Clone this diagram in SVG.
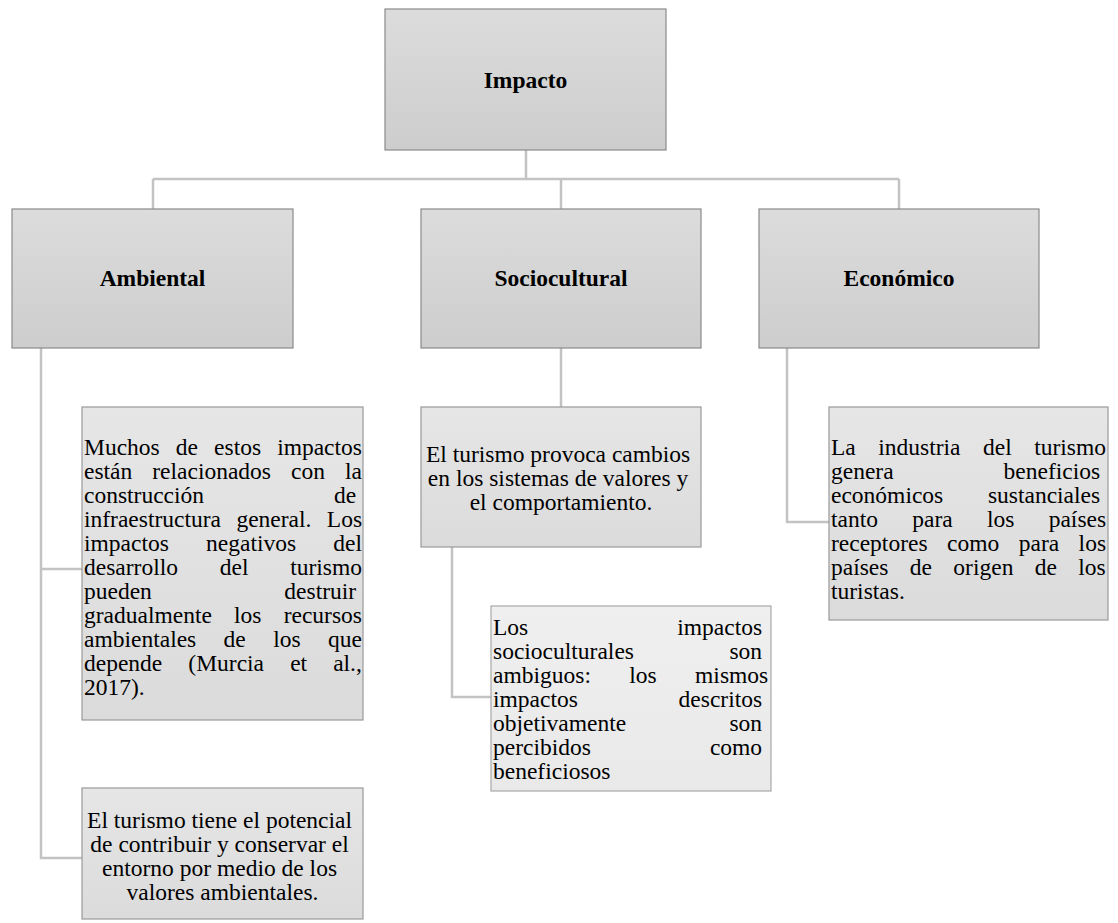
<svg xmlns="http://www.w3.org/2000/svg" width="1118" height="923" viewBox="0 0 1118 923">
<defs>
<linearGradient id="gTop" x1="0" y1="0" x2="0" y2="1">
<stop offset="0" stop-color="#dcdcdc"/><stop offset="1" stop-color="#cdcdcd"/>
</linearGradient>
<linearGradient id="gChild" x1="0" y1="0" x2="0" y2="1">
<stop offset="0" stop-color="#e6e6e6"/><stop offset="1" stop-color="#dbdbdb"/>
</linearGradient>
<linearGradient id="gLight" x1="0" y1="0" x2="0" y2="1">
<stop offset="0" stop-color="#efefef"/><stop offset="1" stop-color="#e9e9e9"/>
</linearGradient>
</defs>
<style>
.top{fill:url(#gTop);stroke:#8a8a8a;stroke-width:1.2}
.child{fill:url(#gChild);stroke:#999999;stroke-width:1.2}
.light{fill:url(#gLight);stroke:#a8a8a8;stroke-width:1.2}
.lbl{font-family:"Liberation Serif","Times New Roman",serif;font-size:23.5px;font-weight:bold;fill:#000;text-anchor:middle}
.txt{font-family:"Liberation Serif","Times New Roman",serif;font-size:23.5px;fill:#000}
.c{text-anchor:middle}
.conn{fill:none;stroke:#c3c3c3;stroke-width:2.5}
</style>
<g id="connectors">
<path class="conn" d="M526,150 V179"/>
<path class="conn" d="M153,179 H899"/>
<path class="conn" d="M153,179 V209"/>
<path class="conn" d="M561,179 V209"/>
<path class="conn" d="M899,179 V209"/>
<path class="conn" d="M41,348 V858 H82"/>
<path class="conn" d="M41,569 H82"/>
<path class="conn" d="M561,348 V407"/>
<path class="conn" d="M452,547 V697 H491"/>
<path class="conn" d="M787,348 V522 H829"/>
</g>
<g id="impacto">
<rect class="top" x="385" y="9" width="281" height="141"/>
<text class="lbl" x="525.5" y="88">Impacto</text>
</g>
<g id="ambiental">
<rect class="top" x="12" y="209" width="281" height="139"/>
<text class="lbl" x="152.5" y="286">Ambiental</text>
</g>
<g id="sociocultural">
<rect class="top" x="421" y="209" width="280" height="139"/>
<text class="lbl" x="561" y="286">Sociocultural</text>
</g>
<g id="economico">
<rect class="top" x="759" y="209" width="280" height="139"/>
<text class="lbl" x="899" y="286">Económico</text>
</g>
<g id="amb-1">
<rect class="child" x="82" y="407" width="281" height="313"/>
<text class="txt">
<tspan x="84" y="455" word-spacing="10.2">Muchos de estos impactos</tspan>
<tspan x="84" y="479" word-spacing="14.1">están relacionados con la</tspan>
<tspan x="84" y="503">construcción</tspan><tspan x="362" y="503" text-anchor="end">de</tspan>
<tspan x="84" y="527" word-spacing="9.5">infraestructura general. Los</tspan>
<tspan x="84" y="551" word-spacing="31.3">impactos negativos del</tspan>
<tspan x="84" y="575" word-spacing="35.9">desarrollo del turismo</tspan>
<tspan x="84" y="599">pueden</tspan><tspan x="362" y="599" text-anchor="end">destruir</tspan>
<tspan x="84" y="623" word-spacing="16.3">gradualmente los recursos</tspan>
<tspan x="84" y="647" word-spacing="21.5">ambientales de los que</tspan>
<tspan x="84" y="671" word-spacing="20.2">depende (Murcia et al.,</tspan>
<tspan x="84" y="695">2017).</tspan>
</text>
</g>
<g id="amb-2">
<rect class="child" x="82" y="788" width="281" height="131"/>
<text class="txt c">
<tspan x="222.5" y="828">El turismo tiene el potencial</tspan>
<tspan x="222.5" y="852">de contribuir y conservar el</tspan>
<tspan x="222.5" y="876">entorno por medio de los</tspan>
<tspan x="222.5" y="900">valores ambientales.</tspan>
</text>
</g>
<g id="socio-1">
<rect class="child" x="421" y="407" width="280" height="140"/>
<text class="txt c">
<tspan x="561" y="462">El turismo provoca cambios</tspan>
<tspan x="561" y="486">en los sistemas de valores y</tspan>
<tspan x="561" y="510">el comportamiento.</tspan>
</text>
</g>
<g id="socio-2">
<rect class="light" x="491" y="606" width="280" height="185"/>
<text class="txt">
<tspan x="493" y="635">Los</tspan><tspan x="768" y="635" text-anchor="end">impactos</tspan>
<tspan x="493" y="659">socioculturales</tspan><tspan x="768" y="659" text-anchor="end">son</tspan>
<tspan x="493" y="683" word-spacing="32.5">ambiguos: los mismos</tspan>
<tspan x="493" y="707">impactos</tspan><tspan x="768" y="707" text-anchor="end">descritos</tspan>
<tspan x="493" y="731">objetivamente</tspan><tspan x="768" y="731" text-anchor="end">son</tspan>
<tspan x="493" y="755">percibidos</tspan><tspan x="768" y="755" text-anchor="end">como</tspan>
<tspan x="493" y="779">beneficiosos</tspan>
</text>
</g>
<g id="eco-1">
<rect class="child" x="829" y="407" width="279" height="213"/>
<text class="txt">
<tspan x="831" y="455" word-spacing="16.6">La industria del turismo</tspan>
<tspan x="831" y="479">genera</tspan><tspan x="1106" y="479" text-anchor="end">beneficios</tspan>
<tspan x="831" y="503">económicos</tspan><tspan x="1106" y="503" text-anchor="end">sustanciales</tspan>
<tspan x="831" y="527" word-spacing="28.4">tanto para los países</tspan>
<tspan x="831" y="551" word-spacing="13.6">receptores como para los</tspan>
<tspan x="831" y="575" word-spacing="15.5">países de origen de los</tspan>
<tspan x="831" y="599">turistas.</tspan>
</text>
</g>
</svg>
